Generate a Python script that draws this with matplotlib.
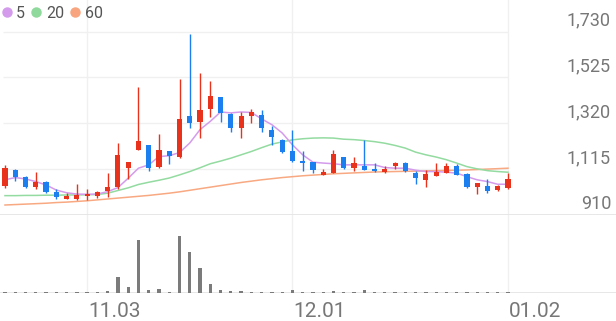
import matplotlib
matplotlib.use('Agg')
import matplotlib.pyplot as plt
from matplotlib.lines import Line2D
import numpy as np

plt.rcParams['font.family'] = ['Roboto', 'DejaVu Sans']

# daily candles (Korean style: red = up, blue = down)
opens = [1040, 1110, 1080, 1033, 1058, 1013, 980, 980, 995, 995,
         1016, 1034, 1121, 1200, 1220, 1125, 1193, 1166, 1352, 1324,
         1385, 1437, 1362, 1300, 1353, 1358, 1290, 1245, 1193, 1151,
         1145, 1088, 1098, 1168, 1118, 1130, 1115, 1103, 1129, 1142,
         1097, 1066, 1085, 1098, 1130, 1091, 1034, 1037, 1019, 1028]
highs = [1133, 1115, 1085, 1103, 1061, 1024, 1005, 1048, 1026, 1017,
         1098, 1232, 1148, 1482, 1220, 1271, 1193, 1520, 1718, 1547,
         1511, 1437, 1365, 1369, 1383, 1380, 1305, 1250, 1290, 1193,
         1145, 1115, 1200, 1170, 1166, 1245, 1141, 1129, 1145, 1145,
         1106, 1110, 1143, 1141, 1138, 1095, 1051, 1069, 1043, 1096]
lows = [1030, 1061, 1030, 1023, 1008, 980, 980, 976, 976, 983,
        990, 1025, 1070, 1200, 1107, 1121, 1136, 1163, 1300, 1254,
        1348, 1326, 1280, 1252, 1322, 1280, 1223, 1187, 1148, 1106,
        1096, 1088, 1098, 1115, 1106, 1110, 1100, 1096, 1114, 1100,
        1046, 1034, 1085, 1098, 1088, 1031, 1004, 1007, 1016, 1023]
closes = [1121, 1078, 1033, 1055, 1013, 990, 993, 998, 1002, 1010,
          1035, 1175, 1145, 1238, 1118, 1200, 1172, 1339, 1322, 1380,
          1441, 1367, 1300, 1353, 1371, 1299, 1256, 1190, 1151, 1143,
          1110, 1100, 1181, 1118, 1143, 1110, 1107, 1114, 1142, 1106,
          1076, 1091, 1101, 1130, 1088, 1034, 1051, 1016, 1040, 1070]
volume = [13, 12, 13, 12, 13, 12, 10, 11, 13, 13,
          20, 160, 60, 534, 34, 44, 15, 570, 410, 250,
          87, 27, 20, 17, 10, 10, 10, 10, 27, 13,
          12, 12, 20, 12, 12, 34, 11, 11, 11, 11,
          11, 11, 11, 11, 11, 11, 11, 11, 11, 11]

# moving averages as shown on the chart
ma5 = [1066, 1076, 1070, 1058, 1043, 1020, 1008, 1002, 1001, 1002,
       1013, 1031, 1073, 1118, 1133, 1170, 1174, 1188, 1231, 1291,
       1328, 1370, 1366, 1370, 1368, 1339, 1313, 1276, 1223, 1178,
       1145, 1141, 1138, 1133, 1133, 1133, 1133, 1121, 1118, 1118,
       1109, 1103, 1103, 1100, 1096, 1080, 1066, 1058, 1046, 1046]
ma20 = [995, 995, 996, 996, 997, 997, 998, 998, 999, 1000,
        1006, 1018, 1030, 1045, 1055, 1064, 1074, 1088, 1103, 1120,
        1138, 1150, 1163, 1178, 1193, 1210, 1226, 1236, 1245, 1250,
        1253, 1254, 1253, 1248, 1246, 1242, 1237, 1230, 1220, 1208,
        1190, 1178, 1168, 1156, 1141, 1125, 1115, 1107, 1103, 1100]
ma60 = [953, 955, 957, 959, 961, 964, 966, 969, 972, 976,
        980, 984, 988, 992, 996, 1001, 1006, 1012, 1019, 1026,
        1033, 1040, 1047, 1054, 1060, 1066, 1071, 1076, 1080, 1084,
        1087, 1090, 1093, 1095, 1097, 1099, 1101, 1102, 1103, 1104,
        1105, 1106, 1107, 1108, 1109, 1110, 1112, 1114, 1116, 1118]

price_ticks = [910, 1115, 1320, 1525, 1730]
date_idx = [8, 28, 49]
date_labels = ['11.03', '12.01', '01.02']

RED = '#e8321c'
BLUE = '#1c7ff0'
GRID = '#f0f0f0'
LINE = '#e3e3e3'

fig = plt.figure(figsize=(6.16, 3.21), dpi=100, facecolor='w')
H = 321
ax = fig.add_axes([0, (H - 214.6) / H, 1, 214.6 / H])
axv = fig.add_axes([0, (H - 293) / H, 1, (293 - 214.6) / H])

x = np.arange(len(closes))
o = np.array(opens); c = np.array(closes)
colors = np.where(c >= o, RED, BLUE)

for a in (ax, axv):
    a.set_xlim(-0.487, 59.52)
    a.axis('off')
    for d in date_idx:
        a.axvline(d, color=GRID, lw=1, zorder=0)

ax.set_ylim(910, 1872)
ax.hlines(price_ticks[1:], -0.2, 49, color=GRID, lw=1, zorder=0)
ax.axhline(910, color=LINE, lw=1.2, zorder=0)

ax.plot(x, ma60, color='#f8a982', lw=1.1, zorder=1)
ax.plot(x, ma20, color='#93dba0', lw=1.1, zorder=1)
ax.plot(x, ma5, color='#d49bec', lw=1.1, zorder=1)

ax.vlines(x, lows, highs, colors=colors, lw=1.0, zorder=3)
body_h = np.maximum(np.abs(c - o), 4.5)
ax.bar(x, body_h, width=0.5, bottom=np.minimum(o, c), color=colors, zorder=4)

for t in price_ticks:
    ax.annotate(f'{t:,}', xy=(611 / 616, t), xycoords=('axes fraction', 'data'),
                xytext=(0, 6), textcoords='offset pixels', ha='right', va='baseline',
                fontsize=13, color='#777777')

handles = [Line2D([], [], marker='o', ls='', color=col, markersize=6.5)
           for col in ['#d49bec', '#8fd99c', '#f8a47e']]
fig.legend(handles, ['5', '20', '60'], loc='upper left', bbox_to_anchor=(1.9 / 616, 1 - 5.8 / H),
           ncol=3, frameon=False, handlelength=0.6, handletextpad=0.3, columnspacing=0.4,
           borderpad=0, borderaxespad=0, fontsize=11.5, labelcolor='#555555')

axv.set_ylim(0, 784)
axv.bar(x, volume, width=0.32, color='#7b7b7b', zorder=2)
axv.axhline(0, color=LINE, lw=1.2, zorder=1)
for d, lab in zip(date_idx, date_labels):
    axv.annotate(lab, xy=(d, 0), xytext=(1, -23.7), textcoords='offset pixels',
                 ha='left', va='baseline', fontsize=15, color='#777777', annotation_clip=False)

fig.savefig('out.png', dpi=100)
